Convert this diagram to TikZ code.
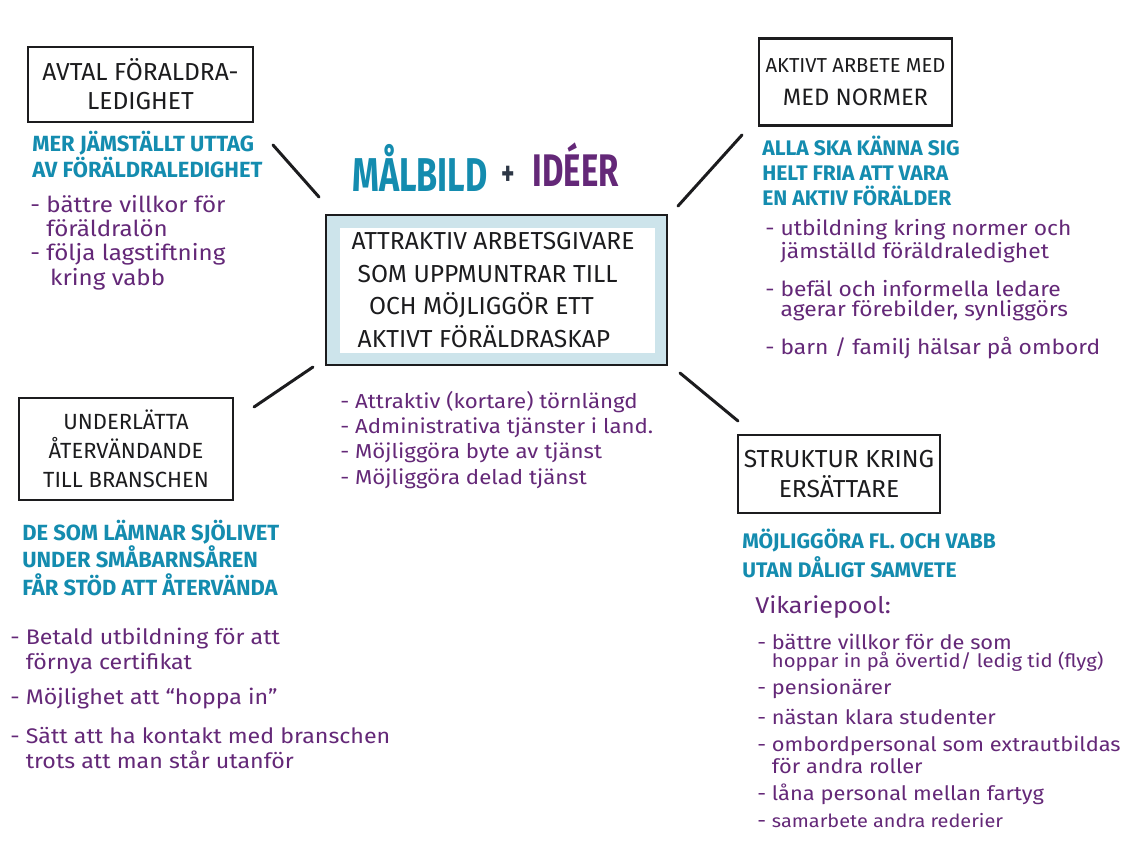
\documentclass[tikz,border=0pt]{standalone}
\usepackage{fontspec}
\setmainfont{Fira Sans}
\newfontfamily\titlefont[FakeStretch=0.72]{Fira Sans}
\newfontfamily\notefont[FakeStretch=1.1]{Fira Sans}
\definecolor{ink}{RGB}{28,28,30}
\definecolor{clrAim}{RGB}{20,140,175}
\definecolor{clrIdea}{RGB}{100,40,120}
\definecolor{clrPlus}{RGB}{45,55,70}
\definecolor{bgPanel}{RGB}{205,228,235}
\newcommand{\fsz}[2]{\fontsize{#1}{#2}\selectfont}
\newcommand{\ind}{\phantom{- }}
\tikzset{
  theme/.style={rectangle,draw=ink,line width=1.4pt,align=center,
    inner sep=0pt,text=ink},
  goalbox/.style={rectangle,draw=ink,line width=1pt,fill=bgPanel,inner sep=0pt},
  goalinner/.style={rectangle,fill=white,inner sep=0pt},
  goaltext/.style={align=left,inner sep=0pt,text=ink},
  % multi-line notes sit on the baseline of their last line
  aim/.style={anchor=base west,align=left,inner sep=0pt,text=clrAim},
  idea/.style={anchor=base west,align=left,inner sep=0pt,text=clrIdea},
  spoke/.style={draw=ink,line width=1.7pt,line cap=round}
}

\begin{document}
\begin{tikzpicture}[x=0.02cm,y=-0.02cm]
\useasboundingbox[fill=white] (0,0) rectangle (1126,845);

% heading
\node[anchor=base west,inner sep=0pt] (title) at (352,191)
  {{\titlefont\bfseries\fsz{27}{30}\color{clrAim}MÅLBILD}\hspace{8pt}%
   \raisebox{3pt}{\titlefont\bfseries\fsz{20}{22}\color{clrPlus}+}\hspace{10pt}%
   \raisebox{2.8pt}{\titlefont\bfseries\fsz{26}{28}\color{clrIdea}IDÉER}};

% goal in the middle: black frame, pale band, white panel
\node[goalbox,minimum width=6.82cm,minimum height=3.0cm] (goal) at (496.5,290) {};
\node[goalinner,minimum width=6.3cm,minimum height=2.5cm] (panel) at (497.5,290.5) {};
\node[goaltext,font=\fsz{14}{18.7}] (goaltext) at (493,290) {
  ATTRAKTIV ARBETSGIVARE\\
  \hspace*{3.5pt}SOM UPPMUNTRAR TILL\\
  \hspace*{10pt}OCH MÖJLIGGÖR ETT\\
  \hspace*{3.5pt}AKTIVT FÖRÄLDRASKAP};

\node[idea,font=\notefont\fsz{11.5}{14.4}] (goalnote) at (340,484) {
  - Attraktiv (kortare) törnlängd\\
  - Administrativa tjänster i land.\\
  - Möjliggöra byte av tjänst\\
  - Möjliggöra delad tjänst};

% four themes
\node[theme,minimum width=4.5cm,minimum height=1.5cm,font=\fsz{14}{16.4}]
  (leave) at (140.5,84.5) {AVTAL FÖRALDRA-\\LEDIGHET};
\node[aim,font=\bfseries\fsz{12.5}{13.6}] (leaveaim) at (32,177)
  {MER JÄMSTÄLLT UTTAG\\AV FÖRÄLDRALEDIGHET};
\node[idea,font=\notefont\fsz{12.5}{13.8}] (leaveidea) at (30,285) {
  - bättre villkor för\\
  \ind föräldralön\\
  - följa lagstiftning\\
  \ind\,kring vabb};

\node[theme,minimum width=3.86cm,minimum height=1.74cm,font=\fsz{11.5}{18.7}]
  (norms) at (855.5,82) {AKTIVT ARBETE MED\\{\fsz{13.5}{18.7}MED NORMER}};
\node[aim,font=\bfseries\fsz{12}{14.2}] (normsaim) at (762,205)
  {ALLA SKA KÄNNA SIG\\HELT FRIA ATT VARA\\EN AKTIV FÖRÄLDER};
\node[idea,font=\notefont\fsz{11.8}{11.5}] (normsidea) at (765,354) {
  - utbildning kring normer och\\
  \ind jämställd föräldraledighet\\[9pt]
  - befäl och informella ledare\\
  \ind agerar förebilder, synliggörs\\[8pt]
  - barn / familj hälsar på ombord};

\node[theme,minimum width=4.28cm,minimum height=2.04cm,font=\fsz{12.5}{16.4}]
  (return) at (126,449) {UNDERLÄTTA\\ÅTERVÄNDANDE\\TILL BRANSCHEN};
\node[aim,font=\bfseries\fsz{12.5}{15.6}] (returnaim) at (22,595)
  {DE SOM LÄMNAR SJÖLIVET\\UNDER SMÅBARNSÅREN\\FÅR STÖD ATT ÅTERVÄNDA};
\node[idea,font=\notefont\fsz{12}{14.2}] (returnidea) at (10,768) {
  - Betald utbildning för att\\
  \ind förnya certifikat\\[5.7pt]
  - Möjlighet att “hoppa in”\\[8pt]
  - Sätt att ha kontakt med branschen\\
  \ind trots att man står utanför};

\node[theme,minimum width=4.04cm,minimum height=1.56cm,font=\fsz{14}{17}]
  (subst) at (839,474) {STRUKTUR KRING\\ERSÄTTARE};
\node[aim,font=\bfseries\fsz{12}{16.4}] (substaim) at (742,577)
  {MÖJLIGGÖRA FL. OCH VABB\\UTAN DÅLIGT SAMVETE};
\node[idea,font=\notefont\fsz{13}{15}] (pool) at (755,613) {Vikariepool:};
\node[idea,font=\notefont\fsz{11.3}{15.3}] (poolidea) at (757,827) {
  - bättre villkor för de som\\[-5pt]
  \ind{\fsz{10.5}{15.3}hoppar in på övertid/ ledig tid (flyg)}\\
  - pensionärer\\[1.7pt]
  - nästan klara studenter\\
  - ombordpersonal som extrautbildas\\[-2.8pt]
  \ind för andra roller\\
  - låna personal mellan fartyg\\
  - {\fsz{10.3}{15.3}samarbete andra rederier}};

% spokes between the goal and the themes
\coordinate (spokeA1) at (273,145);
\coordinate (spokeA2) at (319,197);
\coordinate (spokeB1) at (742,135);
\coordinate (spokeB2) at (678,206);
\coordinate (spokeC1) at (313,367);
\coordinate (spokeC2) at (254,407);
\coordinate (spokeD1) at (680,373);
\coordinate (spokeD2) at (738,421);
\draw[spoke] (spokeA1) -- (spokeA2);
\draw[spoke] (spokeB1) -- (spokeB2);
\draw[spoke] (spokeC1) -- (spokeC2);
\draw[spoke] (spokeD1) -- (spokeD2);
\end{tikzpicture}
\end{document}
